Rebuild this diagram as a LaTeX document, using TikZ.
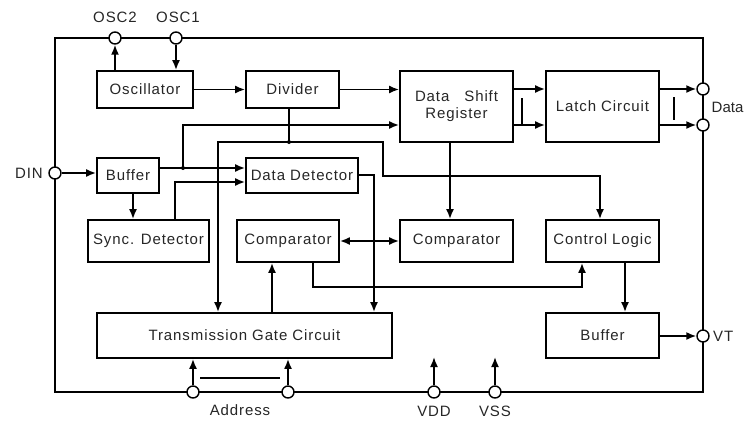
\documentclass[tikz,border=0pt]{standalone}
\usepackage{fontspec}
\setmainfont{Liberation Sans}[LetterSpace=6]
\newfontfamily\tightfont{Liberation Sans}
\usetikzlibrary{arrows.meta}
\begin{document}
\begin{tikzpicture}[x=1pt,y=-1pt,
  wire/.style={line width=1.7pt},
  arr/.style={wire,-{Latex[length=10pt,width=8pt]}},
  darr/.style={wire,{Latex[length=10pt,width=8pt]}-{Latex[length=10pt,width=8pt]}},
  blk/.style={draw,line width=1.8pt,inner sep=0pt,font=\fontsize{15}{17}\selectfont,align=center,text=black!85},
  pin/.style={draw,line width=1.4pt,fill=white,circle,minimum size=12pt,inner sep=0pt},
  lbl/.style={font=\fontsize{15}{17}\selectfont,inner sep=0pt,text=black!85},
  dot/.style={fill,circle,minimum size=4pt,inner sep=0pt}]
\useasboundingbox (0,0) rectangle (745,421);

% chip outline
\draw[wire] (55,38) rectangle (703,392);

% function blocks
\node[blk,minimum width=96pt,minimum height=37pt] (osc) at (145,89.5) {Oscillator};
\node[blk,minimum width=93pt,minimum height=37pt] (div) at (292.5,89.5) {Divider};
\node[blk,minimum width=113pt,minimum height=71pt] (dsr) at (456.5,106.5) {Data\quad Shift\\Register};
\node[blk,minimum width=113pt,minimum height=71pt] (latch) at (602.5,106.5) {Latch Circuit};
\node[blk,minimum width=62pt,minimum height=35pt] (bufin) at (128,175.5) {Buffer};
\node[blk,minimum width=112pt,minimum height=35pt] (dd) at (302,175.5) {Data Detector};
\node[blk,minimum width=121pt,minimum height=42pt] (sync) at (148.5,241) {Sync. Detector};
\node[blk,minimum width=102pt,minimum height=42pt] (cmpa) at (288,241) {Comparator};
\node[blk,minimum width=113pt,minimum height=42pt] (cmpb) at (456.5,241) {Comparator};
\node[blk,minimum width=113pt,minimum height=42pt] (ctrl) at (602.5,241) {Control Logic};
\node[blk,minimum width=295pt,minimum height=45pt] (tgc) at (244.5,335.5) {Transmission Gate Circuit};
\node[blk,minimum width=113pt,minimum height=45pt] (bufout) at (602.5,335.5) {Buffer};

% pins
\node[pin] (osc2) at (115,38) {};
\node[pin] (osc1) at (176,38) {};
\node[pin] (din) at (55,173) {};
\node[pin] (dout1) at (703,89) {};
\node[pin] (dout2) at (703,125) {};
\node[pin] (vt) at (703,336) {};
\node[pin] (adra) at (193,392) {};
\node[pin] (adrb) at (288,392) {};
\node[pin] (vdd) at (434,392) {};
\node[pin] (vss) at (495,392) {};

% pin labels
\node[lbl] (losc2) at (115,17) {OSC2};
\node[lbl] (losc1) at (178,17) {OSC1};
\node[lbl,anchor=east] (ldin) at (43,173) {DIN};
\node[lbl,anchor=west,font=\tightfont\fontsize{15}{17}\selectfont] (ldata) at (711.5,107) {Data};
\node[lbl,anchor=west] (lvt) at (713,336) {VT};
\node[lbl] (ladr) at (240,410) {Address};
\node[lbl] (lvdd) at (434,411) {VDD};
\node[lbl] (lvss) at (495,411) {VSS};

% routing points
\coordinate (jb) at (183,168);
\coordinate (jd) at (289,142);
\coordinate (ca) at (218,142);
\coordinate (cb) at (383,142);
\coordinate (cc) at (383,176);
\coordinate (cd) at (600,176);
\coordinate (ce) at (175,182);
\coordinate (cf) at (374,175);
\coordinate (cg) at (313,287);
\coordinate (ch) at (582,287);
\coordinate (pvdd) at (434,357);
\coordinate (pvss) at (495,357);

% oscillator pins
\draw[arr] (osc.north -| osc2) -- (osc2.south);
\draw[arr] (osc1.south) -- (osc1 |- osc.north);
\draw[arr] (osc.east) -- (div.west);
\draw[arr] (div.east) -- (div.east -| dsr.west);

% input path
\draw[arr] (din.east) -- (din -| bufin.west);
\draw[arr] (bufin.east |- jb) -- (jb -| dd.west);
\draw[arr] (jb) -- (183,125) -- (dsr.west |- 0,125);
\node[dot] at (jb) {};
\draw[arr] (bufin.south -| 133,0) -- (sync.north -| 133,0);
\draw[arr] (sync.north -| ce) -- (ce) -- (ce -| dd.west);

% divider distribution
\draw[wire] (div.south -| jd) -- (jd);
\node[dot] at (jd) {};
\draw[arr] (cb) -- (ca) -- (tgc.north -| ca);
\draw[arr] (ca) -- (cb) -- (cc) -- (cd) -- (ctrl.north -| cd);

% data detector to gate circuit
\draw[arr] (dd.east |- cf) -- (cf) -- (tgc.north -| cf);

% comparators
\draw[darr] (cmpa.east) -- (cmpb.west);
\draw[arr] (dsr.south -| 450,0) -- (cmpb.north -| 450,0);
\draw[arr] (tgc.north -| 272,0) -- (cmpa.south -| 272,0);
\draw[arr] (cmpa.south -| cg) -- (cg) -- (ch) -- (ctrl.south -| ch);

% shift register to latch and outputs
\draw[arr] (dsr.east |- dout1) -- (latch.west |- dout1);
\draw[arr] (dsr.east |- dout2) -- (latch.west |- dout2);
\draw[wire] (522,98) -- (522,125);
\draw[arr] (latch.east |- dout1) -- (dout1.west);
\draw[arr] (latch.east |- dout2) -- (dout2.west);
\draw[wire] (674,97) -- (674,120);

% output driver
\draw[arr] (ctrl.south -| 625,0) -- (bufout.north -| 625,0);
\draw[arr] (bufout.east |- vt) -- (vt.west);

% address and supply pins
\draw[arr] (adra.north) -- (adra |- tgc.south);
\draw[arr] (adrb.north) -- (adrb |- tgc.south);
\draw[wire] (200,378) -- (280,378);
\draw[arr] (vdd.north) -- (pvdd);
\draw[arr] (vss.north) -- (pvss);
\end{tikzpicture}
\end{document}
